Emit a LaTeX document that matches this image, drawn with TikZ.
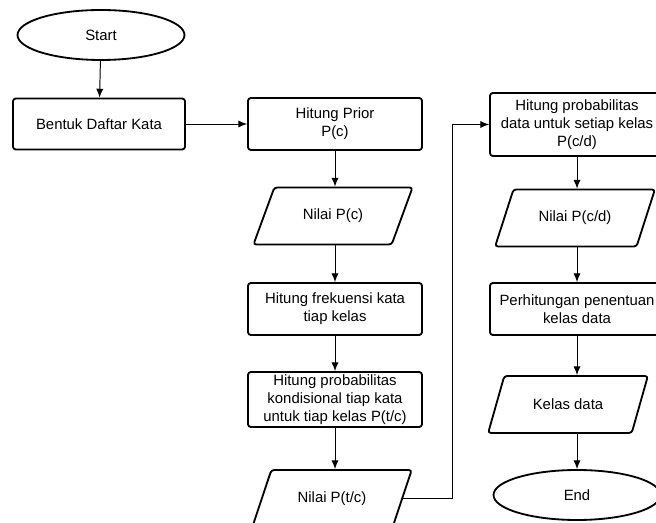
\documentclass[tikz,border=0pt]{standalone}
\usepackage{fontspec}
\setmainfont{Liberation Sans}
\usetikzlibrary{positioning, shapes.geometric, arrows.meta}
\tikzset{
  fcproc/.style={draw=black, line width=1.3pt, rounded corners=2pt, fill=white,
    minimum width=4.35cm, minimum height=1.3cm, align=center,
    font=\fontsize{10.6}{13}\selectfont, inner sep=1pt},
  fcio/.style={trapezium, trapezium left angle=56, trapezium right angle=124,
    trapezium stretches=true, draw=black, line width=1.3pt, rounded corners=2pt,
    minimum width=4.0cm, minimum height=1.425cm, align=center,
    font=\fontsize{10.6}{13}\selectfont, inner sep=1pt},
  fcterm/.style={ellipse, draw=black, line width=1.3pt,
    minimum width=4.175cm, minimum height=1.25cm,
    font=\fontsize{10.6}{13}\selectfont},
  fcedge/.style={draw=black, line width=0.7pt, -{Latex[length=2.2mm, width=1.8mm]}}
}
\begin{document}
\begin{tikzpicture}
  \path[use as bounding box, clip] (0,0) rectangle (16.4,13.05);
  % left column
  \node[fcterm] (start) at (2.525,12.175) {Start};
  \node[fcproc, minimum width=4.3cm, minimum height=1.275cm] (daftar) at (2.475,9.95) {Bentuk Daftar Kata};
  % middle column
  \node[fcproc] (prior) at (8.375,9.95) {Hitung Prior\\P(c)};
  \node[fcio] (nilaic) at (8.325,7.65) {Nilai P(c)};
  \node[fcproc] (frek) at (8.375,5.325) {Hitung frekuensi kata\\tiap kelas};
  \node[fcproc, minimum height=1.375cm] (kond) at (8.375,3.0625) {Hitung probabilitas\\kondisional tiap kata\\untuk tiap kelas P(t/c)};
  \node[fcio] (nilaitc) at (8.3,0.5875) {Nilai P(t/c)};
  % right column
  \node[fcproc, minimum height=1.575cm] (pdata) at (14.425,9.9375) {Hitung probabilitas\\data untuk setiap kelas\\P(c/d)};
  \node[fcio] (nilaicd) at (14.375,7.6) {Nilai P(c/d)};
  \node[fcproc] (tentu) at (14.425,5.325) {Perhitungan penentuan\\kelas data};
  \node[fcio] (kelas) at (14.2,2.9375) {Kelas data};
  \node[fcterm] (end) at (14.425,0.675) {End};
  \coordinate (loop) at (11.3,9.9375);
  \draw[fcedge] (start) -- (daftar);
  \draw[fcedge] (daftar) -- (prior);
  \draw[fcedge] (prior.south) -- (prior.south |- nilaic.north);
  \draw[fcedge] (prior.south |- nilaic.south) -- (frek.north);
  \draw[fcedge] (frek) -- (kond);
  \draw[fcedge] (kond.south) -- (kond.south |- nilaitc.north);
  \draw[fcedge] (nilaitc.east) -- (nilaitc.east -| loop) -- (loop) -- (pdata.west);
  \draw[fcedge] (pdata.south) -- (pdata.south |- nilaicd.north);
  \draw[fcedge] (pdata.south |- nilaicd.south) -- (tentu.north);
  \draw[fcedge] (tentu.south) -- (tentu.south |- kelas.north);
  \draw[fcedge] (tentu.south |- kelas.south) -- (end);
\end{tikzpicture}
\end{document}
